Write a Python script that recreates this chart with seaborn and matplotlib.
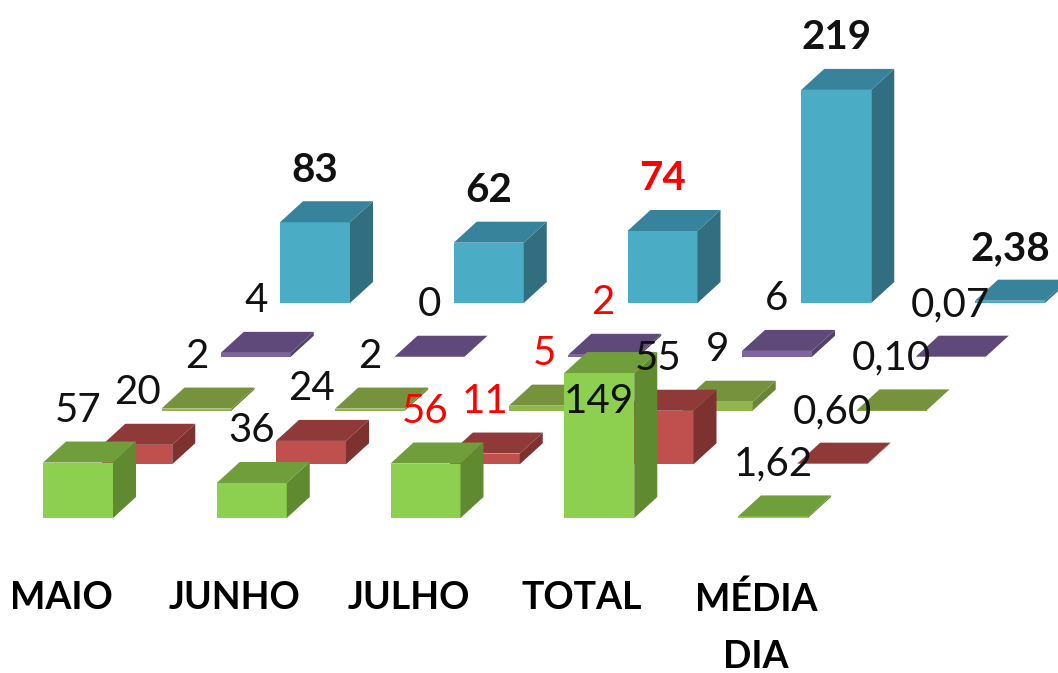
#!/usr/bin/env python3
"""Oblique 3D-look bars per month, one row of bars behind the other."""

import matplotlib
matplotlib.use("Agg")
import matplotlib.pyplot as plt
import pandas as pd
import seaborn as sns

# ── Data ──────────────────────────────────────────────────────────────────────
CATEGORIES = ["MAIO", "JUNHO", "JULHO", "TOTAL", "MÉDIA\nDIA"]

# front row first
GREEN  = [57, 36, 56, 149, 1.62]
RED    = [20, 24, 11, 55, 0.60]
OLIVE  = [2, 2, 5, 9, 0.10]
PURPLE = [4, 0, 2, 6, 0.07]
BLUE   = [83, 62, 74, 219, 2.38]
SERIES = [GREEN, RED, OLIVE, PURPLE, BLUE]

# front, top, side
COLORS = [
    ("#8DD04F", "#6F9E3B", "#5F8A2F"),
    ("#BF504D", "#8F3A38", "#7E3230"),
    ("#93B550", "#76923C", "#6A8536"),
    ("#8064A2", "#5F497A", "#544069"),
    ("#4BACC6", "#37839B", "#316F80"),
]

# ── Layout ────────────────────────────────────────────────────────────────────
PX = 0.973          # pixels per value unit
X_START = 78        # centre of first front bar
X_STEP = 173.75     # between categories
X_SHIFT = 59.25     # each row further back moves right...
ROW_LIFT = 53.75 / PX   # ...and up
BAR_W = 70
DEPTH_X = 23
DEPTH_Y = 21 / PX
LABEL_LIFT = 52 / PX
AXES_BOTTOM = 570   # pixel row of the category axis
BASE_PIXEL = 518

sns.set_theme(style="white")
plt.rcParams["font.family"] = ["Lato", "DejaVu Sans"]


def draw_row(ax, row, values, colors):
    base = row * ROW_LIFT
    xs = [X_START + c * X_STEP + row * X_SHIFT for c in range(len(values))]
    df = pd.DataFrame({"pos": xs, "value": values})
    front, top, side = colors

    sns.barplot(data=df, x="pos", y="value", native_scale=True, width=BAR_W / X_STEP,
                color=front, saturation=1, linewidth=0, bottom=base, errorbar=None, ax=ax)

    for x, v in zip(xs, values):
        left, right = x - BAR_W / 2, x + BAR_W / 2
        y = base + v
        ax.fill([right, right + DEPTH_X, right + DEPTH_X, right],
                [base, base + DEPTH_Y, y + DEPTH_Y, y], color=side, lw=0)
        ax.fill([left, left + DEPTH_X, right + DEPTH_X, right],
                [y, y + DEPTH_Y, y + DEPTH_Y, y], color=top, lw=0)
    return xs, base


def main():
    fig = plt.figure(figsize=(10.58, 6.73), dpi=100)
    ax = fig.add_axes([0, 1 - AXES_BOTTOM / 673, 1, AXES_BOTTOM / 673])

    # back row first so the front rows cover it
    placed = {}
    for row in reversed(range(len(SERIES))):
        placed[row] = draw_row(ax, row, SERIES[row], COLORS[row])

    for row, (xs, base) in placed.items():
        for c, (x, v) in enumerate(zip(xs, SERIES[row])):
            label = f"{v:.2f}".replace(".", ",") if c == 4 else str(v)
            y = base + v + LABEL_LIFT
            if v == 149:  # this one sits on the bar's front face
                y = base + v - 28 / PX
            ax.text(x, y, label, ha="center", va="center", fontsize=29,
                    color="#FF0000" if c == 2 else "#111111",
                    fontweight="bold" if row == 4 else "normal", zorder=5)

    ax.set_xlim(0, 1058)
    ax.set_ylim(-(AXES_BOTTOM - BASE_PIXEL) / PX, BASE_PIXEL / PX)
    ax.set_xticks([X_START - 17 + c * X_STEP for c in range(len(CATEGORIES))])
    ax.set_xticklabels(CATEGORIES, fontsize=27, fontweight="bold", color="black",
                       linespacing=1.85)
    ax.tick_params(axis="x", length=0, pad=8, bottom=False)
    ax.set_yticks([])
    ax.set_xlabel("")
    ax.set_ylabel("")
    sns.despine(ax=ax, left=True, bottom=True)

    fig.savefig("out.png", dpi=100)


if __name__ == "__main__":
    main()
